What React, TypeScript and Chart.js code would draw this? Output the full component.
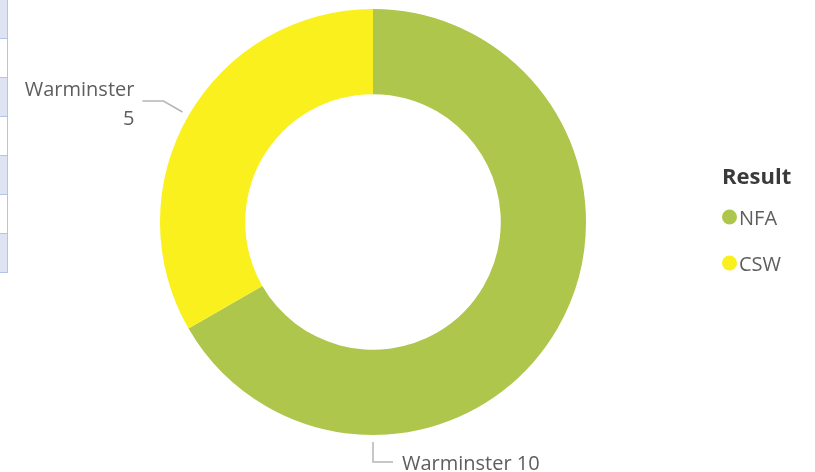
import React, { useEffect, useRef } from "react";
import { Chart, registerables } from "chart.js";

Chart.register(...registerables);

// ---- data ----
const categories = ["NFA", "CSW"];
const values = [10, 5];
const detailNames = ["Warminster", "Warminster"];
const legendTitle = "Result";
const sliceColors = ["#ADC64B", "#F9F01E"];
// decorative table strip on the left edge (shaded rows)
const stripRows = [true, false, true, false, true, false, true];

const FONT = "'Open Sans', 'Noto Sans', sans-serif";
const TEXT_COLOR = "#605E5C";
const LINE_COLOR = "#B5B5B5";

const detailLabelPlugin = {
  id: "detailLabelPlugin",
  afterDraw(chart: any) {
    const ctx = chart.ctx as CanvasRenderingContext2D;
    const meta = chart.getDatasetMeta(0);
    ctx.save();
    ctx.strokeStyle = LINE_COLOR;
    ctx.lineWidth = 1.5;
    ctx.font = `20px ${FONT}`;
    ctx.fillStyle = TEXT_COLOR;
    meta.data.forEach((arc: any, i: number) => {
      const { x, y, startAngle, endAngle, outerRadius } = arc.getProps(
        ["x", "y", "startAngle", "endAngle", "outerRadius"],
        true
      );
      if (i === 0) {
        const a = Math.PI / 2;
        const x0 = x + Math.cos(a) * (outerRadius + 7);
        const y0 = y + Math.sin(a) * (outerRadius + 7);
        const y1 = y + outerRadius + 27;
        ctx.beginPath();
        ctx.moveTo(x0, y0);
        ctx.lineTo(x0, y1);
        ctx.lineTo(x0 + 20, y1);
        ctx.stroke();
        ctx.textAlign = "left";
        ctx.textBaseline = "alphabetic";
        ctx.fillText(`${detailNames[i]} ${values[i]}`, x0 + 29, y1 + 8);
      } else {
        const a = (startAngle + endAngle) / 2;
        const x0 = x + Math.cos(a) * (outerRadius + 7);
        const y0 = y + Math.sin(a) * (outerRadius + 7);
        const x1 = x + Math.cos(a) * (outerRadius + 29);
        const y1 = y + Math.sin(a) * (outerRadius + 29);
        ctx.beginPath();
        ctx.moveTo(x0, y0);
        ctx.lineTo(x1, y1);
        ctx.lineTo(x1 - 21, y1);
        ctx.stroke();
        ctx.textAlign = "right";
        ctx.textBaseline = "alphabetic";
        ctx.fillText(detailNames[i], x1 - 29, y1 - 5);
        ctx.fillText(String(values[i]), x1 - 29, y1 + 24);
      }
    });
    ctx.restore();
  },
};

const legendPlugin = {
  id: "legendPlugin",
  afterDraw(chart: any) {
    const ctx = chart.ctx as CanvasRenderingContext2D;
    ctx.save();
    const lx = 722;
    ctx.textAlign = "left";
    ctx.textBaseline = "alphabetic";
    ctx.fillStyle = "#3B3A39";
    ctx.font = `bold 22px ${FONT}`;
    ctx.fillText(legendTitle, lx, 184);
    categories.forEach((c, i) => {
      const cy = 217 + i * 46;
      ctx.beginPath();
      ctx.fillStyle = sliceColors[i];
      ctx.arc(lx + 7.5, cy, 7.5, 0, Math.PI * 2);
      ctx.fill();
      ctx.fillStyle = TEXT_COLOR;
      ctx.font = `20px ${FONT}`;
      ctx.fillText(c, lx + 17, cy + 7.5);
    });
    ctx.restore();
  },
};

export default function App() {
  const ref = useRef<HTMLCanvasElement | null>(null);
  useEffect(() => {
    if (!ref.current) return;
    const chart = new Chart(ref.current, {
      type: "doughnut",
      data: {
        labels: categories,
        datasets: [
          {
            data: values,
            backgroundColor: sliceColors,
            borderWidth: 0,
            hoverOffset: 0,
          },
        ],
      },
      options: {
        responsive: false,
        animation: false,
        devicePixelRatio: 1,
        cutout: "60%",
        layout: { padding: { left: 160, right: 229, top: 9, bottom: 37 } },
        plugins: {
          legend: { display: false },
          tooltip: { enabled: false },
        },
      },
      plugins: [detailLabelPlugin, legendPlugin],
    });
    return () => chart.destroy();
  }, []);

  const rowH = 39;
  return (
    <div style={{ position: "absolute", left: 0, top: 0, width: 815, height: 472, background: "#fff", overflow: "hidden" }}>
      {stripRows.map((shaded, i) => {
        const t = i * rowH;
        return (
          <div
            key={i}
            style={{
              position: "absolute",
              left: 0,
              top: t,
              width: 8,
              height: rowH,
              boxSizing: "border-box",
              background: shaded ? "#DFE4F4" : "#FFFFFF",
              borderRight: "1px solid #B4C3E8",
              borderBottom: "1px solid #B4C3E8",
            }}
          />
        );
      })}
      <canvas ref={ref} width={815} height={472} style={{ position: "absolute", left: 0, top: 0 }} />
    </div>
  );
}
